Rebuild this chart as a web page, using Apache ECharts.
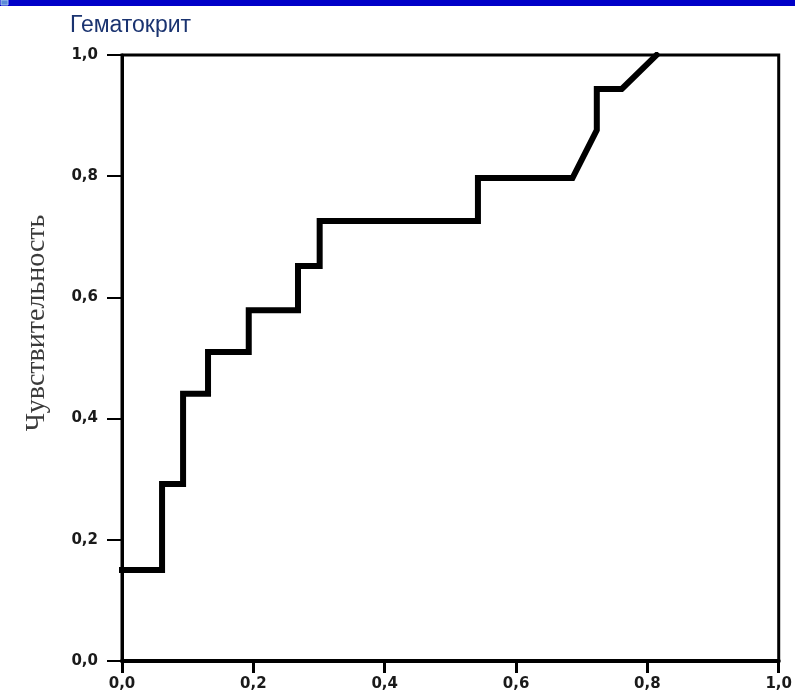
<!DOCTYPE html>
<html>
<head>
<meta charset="utf-8">
<script src="https://cdn.jsdelivr.net/npm/echarts@6/dist/echarts.min.js"></script>
<style>
  html, body { margin: 0; padding: 0; background: #fff; }
  #chart { width: 795px; height: 698px; }
</style>
</head>
<body>
<div id="chart"></div>
<script>
// ROC-кривая: 1 - специфичность по X, чувствительность по Y
var rocX = [0, 0.061, 0.061, 0.093, 0.093, 0.131, 0.131, 0.193, 0.193, 0.268, 0.268, 0.301, 0.301, 0.542, 0.542, 0.686, 0.723, 0.723, 0.761, 0.814];
var rocY = [0.15, 0.15, 0.292, 0.292, 0.441, 0.441, 0.51, 0.51, 0.579, 0.579, 0.652, 0.652, 0.726, 0.726, 0.797, 0.797, 0.876, 0.944, 0.944, 1.0];
var chartTitle = "Гематокрит";
var yName = "Чувствительность";

var points = rocX.map(function (x, i) { return [x, rocY[i]]; });

function fmt(v) {
  return v.toFixed(1).replace(".", ",");
}

var chart = echarts.init(document.getElementById("chart"));
var option = {
  backgroundColor: "#fff",
  animation: false,
  grid: {
    left: 122,
    right: 16,
    top: 55,
    bottom: 37,
    show: true,
    borderColor: "#000",
    borderWidth: 3
  },
  graphic: [
    { type: "rect", shape: { x: 0, y: 0, width: 795, height: 6 }, style: { fill: "#0000c8" } },
    { type: "rect", shape: { x: 1, y: 0, width: 7, height: 5 }, style: { fill: "#5a8ad8", stroke: "#a8c4f0", lineWidth: 1 } },
    {
      type: "text", left: 70, top: 14,
      style: { text: chartTitle, font: "23px 'Liberation Sans', Arial", fill: "#1a3370" }
    },
    {
      type: "text", x: 37, y: 323, rotation: Math.PI / 2,
      style: {
        text: yName, font: "28px 'Liberation Serif', 'DejaVu Serif', serif",
        fill: "#3a3a3a", align: "center", verticalAlign: "middle"
      }
    }
  ],
  xAxis: {
    type: "value",
    min: 0,
    max: 1,
    interval: 0.2,
    axisLine: { show: true, lineStyle: { color: "#000", width: 4 } },
    axisTick: { show: true, length: 12, lineStyle: { color: "#000", width: 3 } },
    splitLine: { show: false },
    axisLabel: {
      margin: 16,
      color: "#1a1a1a",
      fontWeight: "bold",
      fontSize: 15,
      fontFamily: "'DejaVu Sans', Verdana",
      formatter: fmt,
      showMaxLabel: true,
      showMinLabel: true
    }
  },
  yAxis: {
    type: "value",
    min: 0,
    max: 1,
    interval: 0.2,
    axisLine: { show: true, lineStyle: { color: "#000", width: 3 } },
    axisTick: { show: true, length: 15, lineStyle: { color: "#000", width: 2 } },
    splitLine: { show: false },
    axisLabel: {
      margin: 24,
      color: "#1a1a1a",
      fontWeight: "bold",
      fontSize: 15,
      fontFamily: "'DejaVu Sans', Verdana",
      formatter: fmt
    }
  },
  series: [
    {
      type: "line",
      data: points,
      showSymbol: false,
      lineStyle: { color: "#000", width: 6, join: "miter", cap: "square" }
    }
  ]
};
chart.setOption(option);
</script>
</body>
</html>
